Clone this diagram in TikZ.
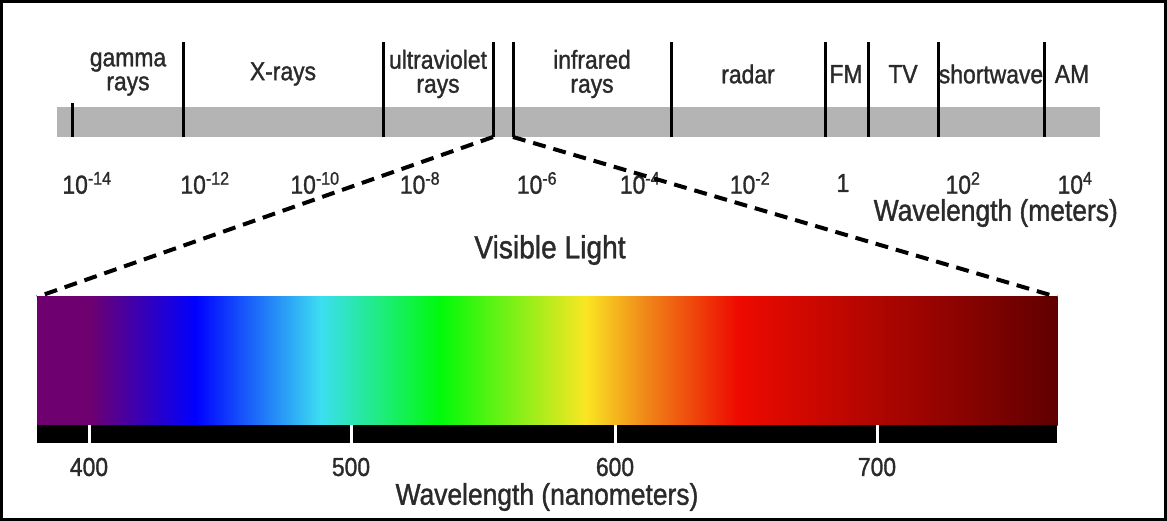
\documentclass[tikz,border=0pt]{standalone}
\usepackage{fontspec}
\setmainfont{Liberation Sans}[FakeStretch=0.88,FakeBold=1.2]
\usetikzlibrary{positioning,calc}
\definecolor{bargray}{HTML}{B4B4B4}
\definecolor{inkgray}{HTML}{2A2A2A}
\definecolor{specviolet}{RGB}{110,0,112}
\definecolor{specblue}{RGB}{0,0,255}
\definecolor{speccyan}{RGB}{60,222,242}
\definecolor{specgreen}{RGB}{0,250,10}
\definecolor{specyellow}{RGB}{250,230,35}
\definecolor{specorange}{RGB}{240,135,25}
\definecolor{specred}{RGB}{238,10,0}
\definecolor{specdark}{RGB}{95,0,0}
\tikzset{
  divider/.style={line width=3pt, draw=black},
  band/.style={align=center, text=inkgray, font=\fontsize{26}{24}\selectfont, inner sep=0pt},
  expo/.style={text=inkgray, font=\fontsize{26}{26}\selectfont, inner sep=0pt},
  axistitle/.style={text=inkgray, font=\fontsize{30}{30}\selectfont, inner sep=0pt},
  zoomline/.style={line width=4pt, dash pattern=on 13pt off 8pt},
  nmtick/.style={draw=white, line width=3pt}
}
\begin{document}
\begin{tikzpicture}[x=1pt,y=-1pt]
  \useasboundingbox (0,0) rectangle (1167,521);
  \fill[white] (0,0) rectangle (1167,521);
  \draw[line width=3pt] (1.5,1.5) rectangle (1165.5,519.5);

  % electromagnetic band
  \fill[bargray] (57,107) rectangle (1100,137);
  \draw[divider] (72,103) -- (72,137);
  \foreach \x in {183,383,493,513,671,825,868,938,1044} {
    \draw[divider] (\x,42) -- (\x,137) coordinate (foot\x);
  }
  \foreach \x/\name/\txt in {128/gamma/{gamma\\rays},283/xray/{X-rays},438/uv/{ultraviolet\\rays},
      592/ir/{infrared\\rays},748/radar/{radar},846/fm/{FM},903/tv/{TV},991/sw/{shortwave},1072/am/{AM}} {
    \node[band] (\name) at (\x,74) {\txt};
  }
  \foreach \x/\name/\txt in {87/m14/{10\textsuperscript{-14}},205/m12/{10\textsuperscript{-12}},
      315/m10/{10\textsuperscript{-10}},420/m8/{10\textsuperscript{-8}},537/m6/{10\textsuperscript{-6}},
      640/m4/{10\textsuperscript{-4}},750/m2/{10\textsuperscript{-2}},843/p0/{1},
      963/p2/{10\textsuperscript{2}},1075/p4/{10\textsuperscript{4}}} {
    \node[expo] (\name) at (\x,183) {\txt};
  }
  \node[axistitle, anchor=east] (meters) at (1118,213) {Wavelength (meters)};

  % visible part
  \node[axistitle, font=\fontsize{32}{32}\selectfont] (visible) at (550,250) {Visible Light};
  \foreach \xa/\xb/\ca/\cb in {37/90/specviolet/specviolet,90/195/specviolet/specblue,
      195/320/specblue/speccyan,320/440/speccyan/specgreen,440/585/specgreen/specyellow,
      585/645/specyellow/specorange,645/737/specorange/specred,737/1057/specred/specdark} {
    \shade[left color=\ca, right color=\cb] (\xa,297) rectangle (\xb+0.6,425);
  }
  \coordinate (specNW) at (37,297);
  \coordinate (specNE) at (1057,297);
  \fill[black] (37,425) rectangle (1057,443);
  \foreach \x/\v in {89/400,351/500,615/600,877/700} {
    \draw[nmtick] (\x,425) -- (\x,443);
    \node[expo] (nm\v) at (\x,467) {\v};
  }
  \node[axistitle] (nanometers) at (547,497) {Wavelength (nanometers)};

  \draw[zoomline] (foot493) -- (specNW);
  \draw[zoomline] (foot513) -- (specNE);
\end{tikzpicture}
\end{document}
